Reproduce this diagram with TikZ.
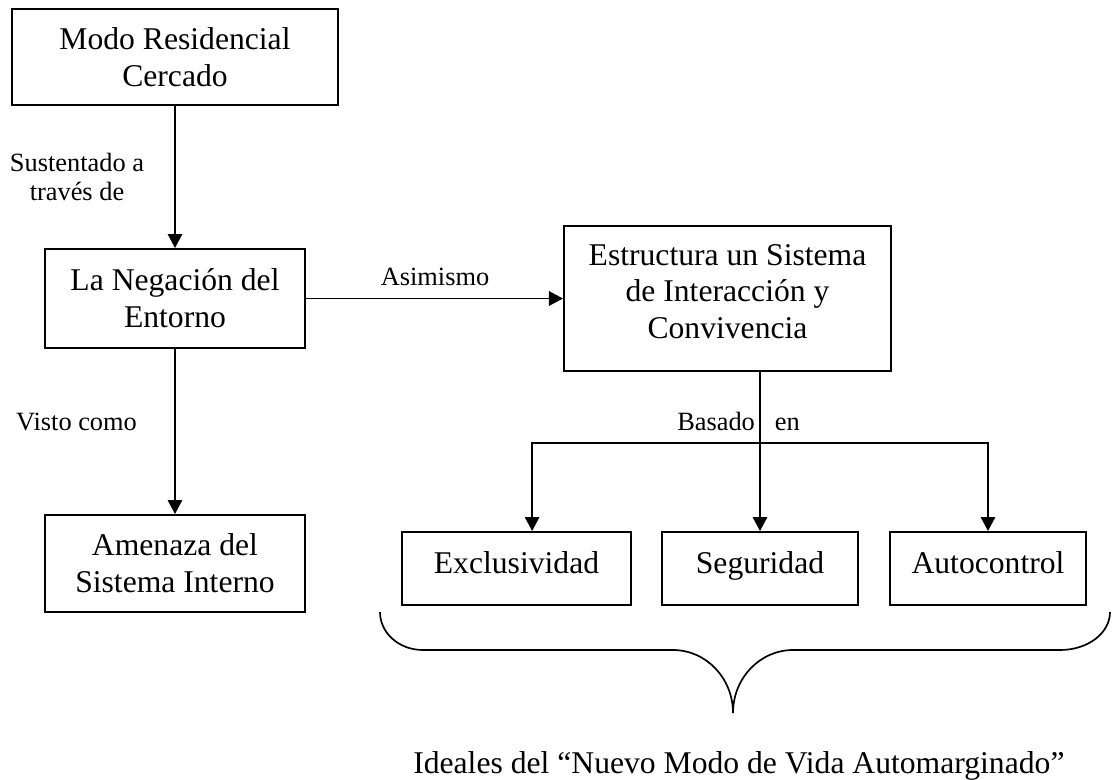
\documentclass[tikz,border=0pt]{standalone}
\usepackage{fontspec}
\setmainfont{Liberation Serif}
\usetikzlibrary{arrows.meta,calc}
\tikzset{
    caja/.style={
        draw,
        line width=1.4pt,
        inner sep=0pt,
        align=center,
        font=\fontsize{22.5}{26.3}\selectfont
    },
    cajachica/.style={
        caja,
        minimum height=1.825cm,
        text height=0.55cm,
        text depth=0.325cm
    },
    etiqueta/.style={
        inner sep=0pt,
        align=center,
        font=\fontsize{18.75}{20.5}\selectfont
    },
    leyenda/.style={
        inner sep=0pt,
        font=\fontsize{22.5}{26.3}\selectfont
    },
    flecha/.style={
        line width=1.4pt,
        -{Triangle[length=0.35cm,width=0.36cm]}
    },
    llave/.style={
        line width=1.2pt
    }
}
\begin{document}
\begin{tikzpicture}[x=0.025cm, y=-0.025cm]
                \useasboundingbox (0,0) rectangle (1112,779);

                \node[caja, minimum width=8.15cm, minimum height=2.4cm] (modo) at (175,57) {Modo Residencial\\Cercado};
                \node[caja, minimum width=6.5cm, minimum height=2.475cm] (negacion) at (175,298.5) {La Negación del\\Entorno};
                \node[caja, minimum width=6.5cm, minimum height=2.425cm] (amenaza) at (175,563.5) {Amenaza del\\Sistema Interno};
                \node[caja, minimum width=8.175cm, minimum height=3.625cm, text depth=0.35cm] (estructura) at (727.5,298.5) {Estructura un Sistema\\de Interacción y\\Convivencia};
                \node[cajachica, minimum width=5.725cm] (exclusividad) at (516.5,568.5) {Exclusividad};
                \node[cajachica, minimum width=4.9cm] (seguridad) at (760,568.5) {Seguridad};
                \node[cajachica, minimum width=4.9cm] (autocontrol) at (988,568.5) {Autocontrol};

                \coordinate (rama) at (760,443);

                \draw[flecha] (modo) -- (negacion);
                \draw[flecha] (negacion) -- (amenaza);
                \draw[flecha] (negacion) -- (estructura);
                \draw[flecha] (estructura.south -| seguridad.north) -- (seguridad);
                \draw[flecha] (rama) -| ([xshift=0.39cm]exclusividad.north);
                \draw[flecha] (rama) -| (autocontrol);

                \node[etiqueta] (sustentado) at (77,177) {Sustentado a\\través de};
                \node[etiqueta, anchor=base] (asimismo) at (435,285) {Asimismo};
                \node[etiqueta, anchor=base] (visto) at (76.5,430) {Visto como};
                \node[etiqueta, anchor=base west] (basado) at (677,430) {Basado\hspace{0.5cm}en};

                % llave bajo los tres ideales
                \draw[llave] (380,612) .. controls (380,633) and (399,650) .. (423,650) -- (673,650)
                    .. controls (706,650) and (733,678) .. (733,713)
                    .. controls (733,678) and (760,650) .. (793,650) -- (1060,650)
                    .. controls (1088,650) and (1110,633) .. (1110,612);
                \node[leyenda, anchor=base west] (ideales) at (413,773) {Ideales del “Nuevo Modo de Vida Automarginado”};
\end{tikzpicture}
\end{document}
